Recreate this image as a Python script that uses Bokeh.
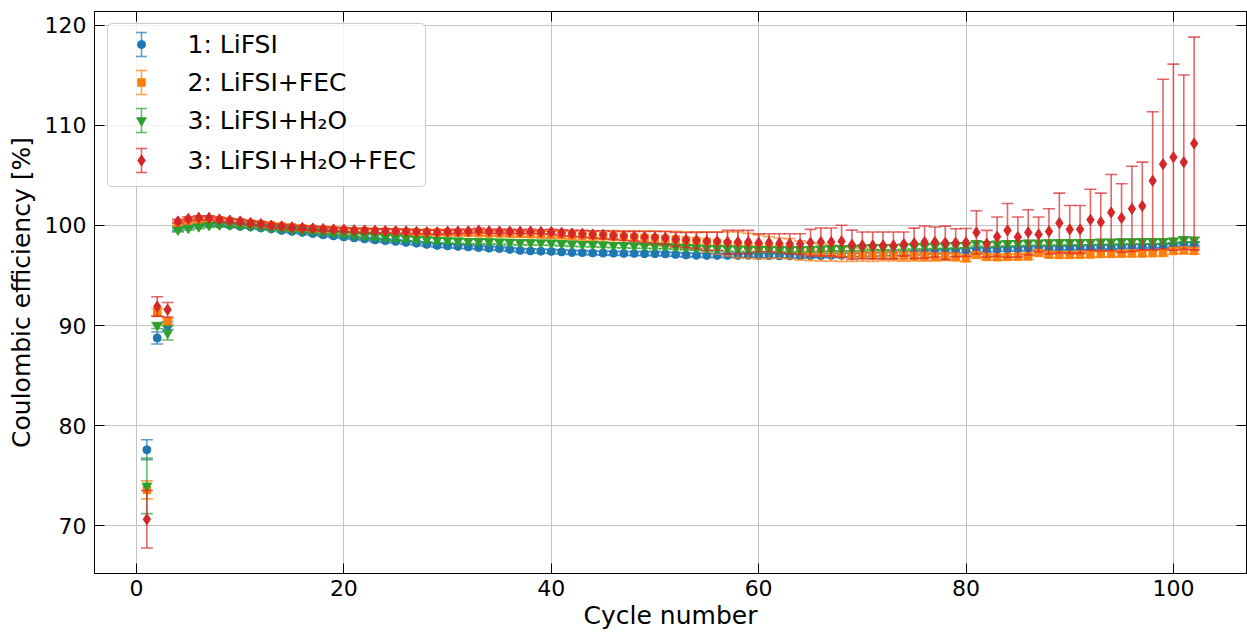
from bokeh.plotting import figure
from bokeh.models import ColumnDataSource, Range1d, LinearAxis, BoxAnnotation, FixedTicker
from bokeh.core.properties import value
from bokeh.embed import file_html
from bokeh.resources import INLINE

# ---------------- data ----------------
cycles = list(range(1, 103))
names = ["1: LiFSI", "2: LiFSI+FEC", "3: LiFSI+H\u2082O", "3: LiFSI+H\u2082O+FEC"]
colors = ["#1f77b4", "#ff7f0e", "#2ca02c", "#d62728"]
markers = ["circle", "square", "inverted_triangle", "diamond"]
x_ticks = [0, 20, 40, 60, 80, 100]
y_ticks = [70, 80, 90, 100, 110, 120]

ce_lifsi = [77.6, 88.76, 90.0, 99.7, 99.9, 100.05, 100.15, 100.1, 100.0, 99.9,
            99.85, 99.75, 99.65, 99.5, 99.4, 99.3, 99.18, 99.05, 98.95, 98.85,
            98.75, 98.65, 98.55, 98.47, 98.4, 98.3, 98.22, 98.1, 98.0, 97.95,
            97.9, 97.85, 97.78, 97.72, 97.68, 97.6, 97.5, 97.45, 97.42, 97.4,
            97.35, 97.3, 97.28, 97.25, 97.24, 97.22, 97.2, 97.2, 97.18, 97.18,
            97.15, 97.1, 97.05, 97.02, 97.0, 97.0, 97.0, 97.0, 97.02, 97.0,
            96.97, 96.95, 96.95, 96.95, 96.97, 96.98, 97.0, 97.02, 97.05, 97.08,
            97.1, 97.15, 97.18, 97.2, 97.25, 97.3, 97.35, 97.4, 97.45, 97.5,
            97.55, 97.55, 97.6, 97.62, 97.65, 97.68, 97.7, 97.7, 97.72, 97.75,
            97.78, 97.8, 97.82, 97.85, 97.88, 97.9, 97.92, 97.95, 97.98, 98.05,
            98.1, 98.15]
err_lifsi = [1.0, 0.6, 0.4, 0.2, 0.15, 0.12, 0.12, 0.12, 0.12, 0.12,
             0.12, 0.12, 0.12, 0.15, 0.15, 0.15, 0.15, 0.15, 0.15, 0.15,
             0.15, 0.15, 0.18, 0.18, 0.18, 0.18, 0.18, 0.18, 0.18, 0.18,
             0.18, 0.18, 0.18, 0.18, 0.18, 0.18, 0.18, 0.2, 0.2, 0.2,
             0.2, 0.2, 0.2, 0.2, 0.2, 0.2, 0.2, 0.2, 0.2, 0.2,
             0.2, 0.2, 0.2, 0.2, 0.2, 0.2, 0.2, 0.2, 0.2, 0.2,
             0.2, 0.2, 0.2, 0.2, 0.2, 0.2, 0.2, 0.2, 0.2, 0.2,
             0.2, 0.2, 0.2, 0.2, 0.2, 0.2, 0.2, 0.2, 0.2, 0.2,
             0.2, 0.2, 0.2, 0.2, 0.2, 0.2, 0.2, 0.2, 0.2, 0.2,
             0.2, 0.2, 0.2, 0.2, 0.2, 0.2, 0.2, 0.2, 0.2, 0.2,
             0.2, 0.2]

ce_fec = [73.6, 91.3, 90.42, 100.15, 100.45, 100.55, 100.6, 100.5, 100.4, 100.3,
          100.2, 100.1, 100.0, 99.9, 99.8, 99.72, 99.65, 99.58, 99.52, 99.46,
          99.42, 99.4, 99.38, 99.36, 99.35, 99.33, 99.3, 99.3, 99.28, 99.27,
          99.25, 99.25, 99.22, 99.2, 99.2, 99.18, 99.15, 99.12, 99.1, 99.08,
          99.05, 99.0, 98.97, 98.95, 98.92, 98.88, 98.85, 98.8, 98.75, 98.72,
          98.65, 98.6, 98.5, 98.45, 98.35, 98.25, 98.15, 98.05, 97.95, 97.85,
          97.78, 97.72, 97.68, 97.5, 97.38, 97.3, 97.24, 97.15, 97.1, 97.08,
          97.0, 97.0, 96.95, 96.92, 96.9, 96.88, 96.85, 96.9, 96.85, 96.72,
          97.05, 96.85, 96.82, 96.85, 96.88, 96.9, 97.25, 97.08, 97.05, 97.05,
          97.08, 97.1, 97.15, 97.15, 97.18, 97.2, 97.2, 97.22, 97.25, 97.45,
          97.5, 97.45]
err_fec = [0.9, 0.4, 0.3, 0.2, 0.2, 0.2, 0.2, 0.2, 0.2, 0.2,
           0.2, 0.2, 0.2, 0.2, 0.2, 0.2, 0.2, 0.2, 0.2, 0.2,
           0.25, 0.25, 0.25, 0.25, 0.25, 0.25, 0.25, 0.25, 0.25, 0.25,
           0.25, 0.25, 0.25, 0.25, 0.25, 0.3, 0.3, 0.3, 0.3, 0.35,
           0.4, 0.45, 0.5, 0.5, 0.55, 0.6, 0.6, 0.65, 0.7, 0.7,
           0.75, 0.8, 0.85, 0.9, 1.0, 1.1, 1.2, 1.3, 1.25, 1.2,
           1.1, 1.0, 1.0, 0.95, 0.9, 0.85, 0.8, 0.75, 0.7, 0.65,
           0.6, 0.55, 0.5, 0.5, 0.45, 0.45, 0.4, 0.4, 0.4, 0.35,
           0.3, 0.3, 0.3, 0.3, 0.3, 0.3, 0.3, 0.3, 0.3, 0.3,
           0.3, 0.3, 0.3, 0.3, 0.3, 0.3, 0.3, 0.3, 0.3, 0.3,
           0.3, 0.3]

ce_h2o = [74.0, 90.0, 89.26, 99.55, 99.72, 99.87, 100.0, 100.05, 100.05, 99.98,
          99.92, 99.85, 99.75, 99.68, 99.6, 99.5, 99.42, 99.33, 99.24, 99.15,
          99.05, 98.95, 98.88, 98.8, 98.75, 98.7, 98.62, 98.58, 98.52, 98.48,
          98.45, 98.42, 98.4, 98.38, 98.35, 98.33, 98.3, 98.28, 98.27, 98.25,
          98.2, 98.15, 98.12, 98.1, 98.05, 98.02, 98.0, 97.97, 97.95, 97.93,
          97.9, 97.85, 97.8, 97.76, 97.72, 97.7, 97.68, 97.65, 97.63, 97.6,
          97.6, 97.58, 97.58, 97.6, 97.62, 97.65, 97.68, 97.7, 97.72, 97.75,
          97.78, 97.8, 97.82, 97.85, 97.88, 97.9, 97.93, 97.95, 97.98, 98.0,
          98.2, 98.1, 98.15, 98.2, 98.22, 98.25, 98.25, 98.28, 98.3, 98.3,
          98.3, 98.32, 98.35, 98.35, 98.38, 98.38, 98.4, 98.4, 98.4, 98.45,
          98.6, 98.55]
err_h2o = [2.77, 0.3, 0.7, 0.2, 0.2, 0.2, 0.2, 0.2, 0.2, 0.2,
           0.2, 0.2, 0.2, 0.2, 0.2, 0.2, 0.2, 0.2, 0.2, 0.2,
           0.25, 0.3, 0.3, 0.3, 0.3, 0.25, 0.25, 0.25, 0.25, 0.25,
           0.25, 0.25, 0.25, 0.25, 0.25, 0.25, 0.25, 0.25, 0.25, 0.25,
           0.25, 0.25, 0.25, 0.25, 0.25, 0.25, 0.25, 0.25, 0.25, 0.25,
           0.25, 0.25, 0.25, 0.25, 0.25, 0.25, 0.25, 0.25, 0.25, 0.25,
           0.25, 0.25, 0.25, 0.25, 0.25, 0.25, 0.25, 0.25, 0.25, 0.25,
           0.25, 0.25, 0.25, 0.25, 0.25, 0.25, 0.25, 0.25, 0.25, 0.25,
           0.25, 0.25, 0.25, 0.25, 0.25, 0.25, 0.25, 0.25, 0.25, 0.25,
           0.25, 0.25, 0.25, 0.25, 0.25, 0.25, 0.25, 0.25, 0.25, 0.25,
           0.25, 0.25]

ce_h2o_fec = [70.66, 91.91, 91.58, 100.4, 100.65, 100.75, 100.75, 100.6, 100.49, 100.4,
              100.25, 100.15, 99.98, 99.91, 99.81, 99.75, 99.7, 99.65, 99.6, 99.58,
              99.52, 99.5, 99.47, 99.45, 99.42, 99.4, 99.36, 99.33, 99.31, 99.38,
              99.4, 99.42, 99.5, 99.42, 99.4, 99.4, 99.38, 99.4, 99.36, 99.35,
              99.27, 99.2, 99.17, 99.1, 99.07, 99.0, 98.94, 98.9, 98.84, 98.8,
              98.74, 98.6, 98.54, 98.5, 98.41, 98.41, 98.34, 98.34, 98.34, 98.27,
              98.27, 98.21, 98.17, 98.14, 98.27, 98.34, 98.34, 98.41, 98.07, 98.0,
              98.0, 98.0, 98.0, 98.14, 98.21, 98.34, 98.34, 98.27, 98.27, 98.3,
              99.3, 98.17, 98.87, 99.5, 98.84, 99.3, 99.1, 99.4, 100.23, 99.6,
              99.6, 100.56, 100.33, 101.29, 100.73, 101.66, 101.93, 104.45, 106.11, 106.81,
              106.31, 108.17]
err_h2o_fec = [2.87, 0.97, 0.72, 0.2, 0.2, 0.2, 0.2, 0.2, 0.2, 0.2,
               0.2, 0.2, 0.2, 0.2, 0.2, 0.2, 0.2, 0.2, 0.2, 0.2,
               0.2, 0.2, 0.2, 0.2, 0.2, 0.2, 0.2, 0.2, 0.2, 0.2,
               0.2, 0.2, 0.2, 0.2, 0.2, 0.2, 0.2, 0.2, 0.2, 0.25,
               0.3, 0.3, 0.35, 0.35, 0.4, 0.4, 0.45, 0.5, 0.55, 0.6,
               0.65, 0.7, 0.75, 0.8, 0.9, 0.9, 1.16, 1.16, 1.16, 0.9,
               0.9, 0.96, 1.0, 1.03, 1.33, 1.4, 1.4, 1.6, 1.46, 1.34,
               1.34, 1.34, 1.34, 1.2, 1.52, 1.6, 1.5, 1.66, 1.4, 1.39,
               2.16, 1.33, 1.96, 2.69, 1.99, 2.26, 1.73, 2.26, 2.99, 2.39,
               2.39, 3.05, 2.89, 3.79, 3.42, 4.25, 4.38, 6.9, 8.47, 9.29,
               8.7, 10.62]

series_values = [ce_lifsi, ce_fec, ce_h2o, ce_h2o_fec]
series_errors = [err_lifsi, err_fec, err_h2o, err_h2o_fec]

# ---------------- styles ----------------
FONT = "DejaVu Sans"
marker_sizes = [8, 7.5, 9.5, 11]
FRAME_W, FRAME_H = 1152, 562

p = figure(width=1247, height=634,
           x_range=Range1d(-4.05, 107.05), y_range=Range1d(65.25, 121.35),
           output_backend="svg", toolbar_location=None,
           min_border_left=94, min_border_right=1, min_border_top=11, min_border_bottom=61)
p.background_fill_color = "white"
p.border_fill_color = "white"
p.outline_line_color = "black"
p.outline_line_width = 1

for ax in (p.xaxis[0], p.yaxis[0]):
    ax.major_tick_in = 10
    ax.major_tick_out = 0
    ax.minor_tick_in = 0
    ax.minor_tick_out = 0
    ax.major_label_text_font = FONT
    ax.major_label_text_font_size = "22px"
    ax.major_label_text_color = "black"
    ax.axis_label_text_font = FONT
    ax.axis_label_text_font_size = "25px"
    ax.axis_label_text_font_style = "normal"
    ax.axis_label_text_color = "black"
    ax.axis_line_color = "black"
    ax.major_tick_line_color = "black"
p.xaxis[0].ticker = FixedTicker(ticks=x_ticks)
p.yaxis[0].ticker = FixedTicker(ticks=y_ticks)
p.xaxis[0].axis_label = "Cycle number"
p.yaxis[0].axis_label = "Coulombic efficiency [%]"
p.xaxis[0].major_label_standoff = 6
p.xaxis[0].axis_label_standoff = 2
p.yaxis[0].major_label_standoff = 8
p.yaxis[0].axis_label_standoff = 6

# mirrored ticks on top and right (no labels drawn)
for loc, tick in (("above", x_ticks), ("right", y_ticks)):
    ax = LinearAxis(ticker=FixedTicker(ticks=tick))
    ax.major_tick_in = 10
    ax.major_tick_out = 0
    ax.minor_tick_in = 0
    ax.minor_tick_out = 0
    ax.major_label_text_color = None
    ax.major_label_text_alpha = 0
    ax.major_label_standoff = 0
    ax.axis_line_color = "black"
    ax.major_tick_line_color = "black"
    p.add_layout(ax, loc)

p.xgrid.ticker = FixedTicker(ticks=x_ticks)
p.ygrid.ticker = FixedTicker(ticks=y_ticks)
p.grid.grid_line_color = "#c4c4c4"
p.grid.grid_line_width = 1

# ---------------- data marks ----------------
for vals, errs, col, mk, ms in zip(series_values, series_errors, colors, markers, marker_sizes):
    lo = [v - e for v, e in zip(vals, errs)]
    hi = [v + e for v, e in zip(vals, errs)]
    src = ColumnDataSource(dict(x=cycles, y=vals, lo=lo, hi=hi))
    p.segment(x0="x", y0="lo", x1="x", y1="hi", source=src,
              line_color=col, line_width=1.6, line_alpha=0.7)
    p.scatter(x="x", y="lo", source=src, marker="dash", size=12,
              line_color=col, line_width=1.6, line_alpha=0.7)
    p.scatter(x="x", y="hi", source=src, marker="dash", size=12,
              line_color=col, line_width=1.6, line_alpha=0.7)
    p.scatter(x="x", y="y", source=src, marker=mk, size=ms,
              fill_color=col, line_color=col, line_width=1)

# ---------------- legend (frame pixel coordinates) ----------------
p.extra_x_ranges = {"lx": Range1d(0, FRAME_W)}
p.extra_y_ranges = {"ly": Range1d(FRAME_H, 0)}

box = BoxAnnotation(left=13, right=331, top=12, bottom=175,
                    x_range_name="lx", y_range_name="ly",
                    fill_color="white", fill_alpha=0.8,
                    line_color="#cccccc", line_width=1, line_alpha=1.0,
                    border_radius=4)
p.add_layout(box)

row_y = [33, 71, 109, 149]
mark_x = [47] * 4
text_x = [93] * 4
leg = ColumnDataSource(dict(mx=mark_x, tx=text_x, y=row_y,
                            lo=[y + 12 for y in row_y], hi=[y - 12 for y in row_y],
                            color=colors, marker=markers, size=marker_sizes, name=names))
p.segment(x0="mx", y0="lo", x1="mx", y1="hi", source=leg, line_color="color",
          line_width=1.6, line_alpha=0.7, x_range_name="lx", y_range_name="ly", level="overlay")
for key in ("lo", "hi"):
    p.scatter(x="mx", y=key, source=leg, marker="dash", size=11, line_color="color",
              line_width=1.6, line_alpha=0.7, x_range_name="lx", y_range_name="ly", level="overlay")
p.scatter(x="mx", y="y", source=leg, marker="marker", size="size", fill_color="color",
          line_color="color", x_range_name="lx", y_range_name="ly", level="overlay")
p.text(x="tx", y="y", text="name", source=leg, text_font=value(FONT), text_font_size="25px",
       text_color="black", text_baseline="middle", text_align="left",
       x_range_name="lx", y_range_name="ly", level="overlay")

open("out.html", "w").write(file_html(p, INLINE))
